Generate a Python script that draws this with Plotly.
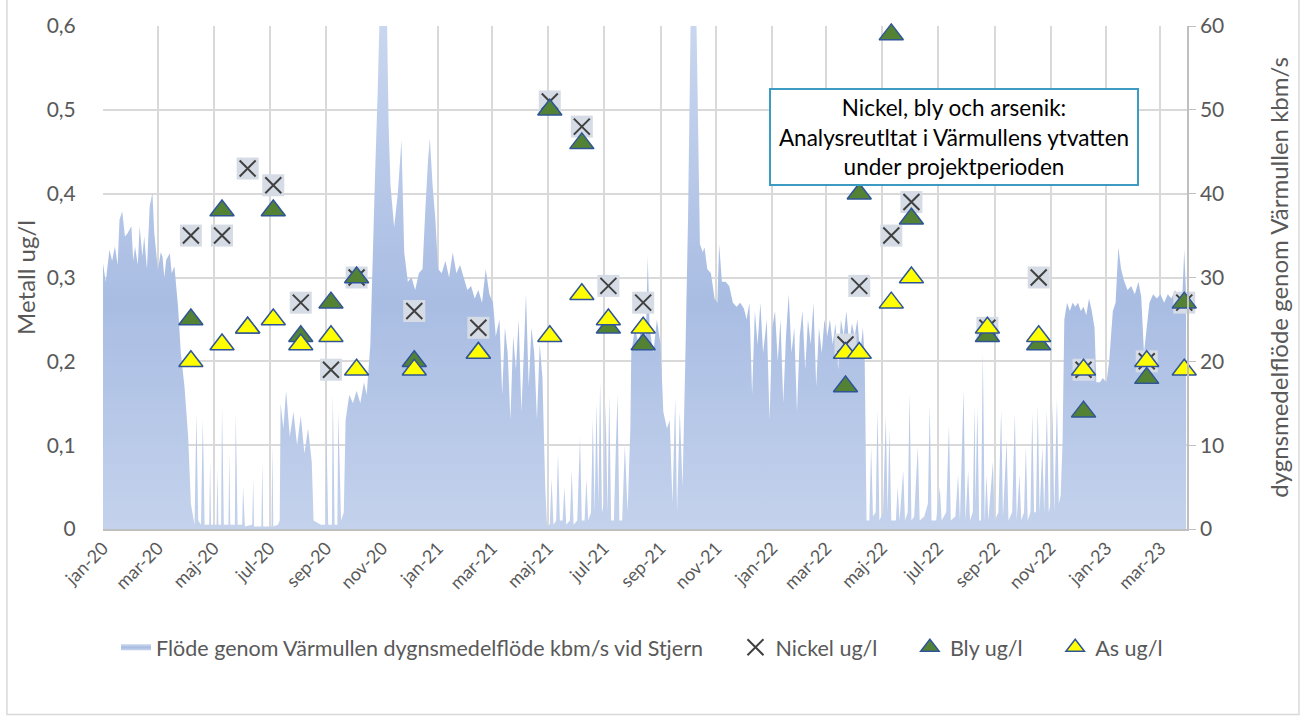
import plotly.graph_objects as go

# ---------------- data ----------------
sample_dates = ["2020-04-06", "2020-05-10", "2020-06-07", "2020-07-05", "2020-08-04", "2020-09-06",
                "2020-10-04", "2020-12-06", "2021-02-14", "2021-05-03", "2021-06-07", "2021-07-06",
                "2021-08-13", "2022-03-22", "2022-04-06", "2022-05-11", "2022-06-02", "2022-08-24",
                "2022-10-19", "2022-12-07", "2023-02-14", "2023-03-27"]
nickel = [0.35, 0.35, 0.43, 0.41, 0.27, 0.19, 0.30, 0.26, 0.24, 0.51, 0.48, 0.29, 0.27, 0.22, 0.29,
          0.35, 0.39, 0.24, 0.30, 0.19, 0.20, 0.27]
bly = [0.25, 0.38, 0.24, 0.38, 0.23, 0.27, 0.30, 0.20, 0.21, 0.50, 0.46, 0.24, 0.22, 0.17, 0.40,
       0.59, 0.37, 0.23, 0.22, 0.14, 0.18, 0.27]
arsenik = [0.20, 0.22, 0.24, 0.25, 0.22, 0.23, 0.19, 0.19, 0.21, 0.23, 0.28, 0.25, 0.24, 0.21, 0.21,
           0.27, 0.30, 0.24, 0.23, 0.19, 0.20, 0.19]

flow_points = [
    # 2020 winter
    ("2020-01-01", 31.7), ("2020-01-04", 29.5), ("2020-01-08", 33.3), ("2020-01-11", 32.0), ("2020-01-14", 33.7),
    ("2020-01-17", 31.5), ("2020-01-19", 36.9), ("2020-01-22", 37.9), ("2020-01-25", 34.9), ("2020-01-28", 35.3),
    ("2020-02-01", 36.1), ("2020-02-03", 32.0), ("2020-02-05", 33.7), ("2020-02-08", 31.5), ("2020-02-10", 36.1),
    ("2020-02-13", 32.5), ("2020-02-15", 34.9), ("2020-02-18", 31.0), ("2020-02-21", 38.5), ("2020-02-24", 40.1),
    ("2020-02-26", 35.3), ("2020-03-01", 30.9), ("2020-03-04", 33.0), ("2020-03-06", 32.5), ("2020-03-08", 30.0),
    ("2020-03-10", 32.1), ("2020-03-14", 32.9), ("2020-03-16", 30.5), ("2020-03-19", 31.3), ("2020-03-23", 26.5),
    ("2020-03-26", 21.0), ("2020-03-30", 17.0), ("2020-04-03", 11.0), ("2020-04-06", 3.0), ("2020-04-10", 0.5),
    # 2020 spring low
    ("2020-04-12", 13.8), ("2020-04-14", 1.0), ("2020-04-17", 0.5), ("2020-04-19", 13.0), ("2020-04-21", 0.5),
    ("2020-04-26", 0.5), ("2020-04-27", 8.0), ("2020-04-28", 0.5), ("2020-05-04", 0.5), ("2020-05-05", 7.0),
    ("2020-05-06", 0.5), ("2020-05-09", 0.5), ("2020-05-10", 14.5), ("2020-05-12", 0.5), ("2020-05-17", 0.5),
    ("2020-05-18", 9.0), ("2020-05-19", 0.5), ("2020-05-24", 0.5), ("2020-05-25", 13.8), ("2020-05-27", 0.5),
    ("2020-06-01", 0.5), ("2020-06-02", 5.0), ("2020-06-04", 0.3), ("2020-06-12", 0.5), ("2020-06-13", 6.0),
    ("2020-06-14", 0.3), ("2020-06-22", 0.3), ("2020-06-23", 8.0), ("2020-06-24", 0.3), ("2020-07-03", 0.3),
    ("2020-07-04", 10.0), ("2020-07-05", 0.3), ("2020-07-10", 0.5),
    # 2020 summer / autumn
    ("2020-07-12", 1.0), ("2020-07-13", 15.0), ("2020-07-16", 12.0), ("2020-07-19", 16.5), ("2020-07-23", 11.0),
    ("2020-07-27", 14.0), ("2020-07-31", 10.0), ("2020-08-04", 13.5), ("2020-08-08", 9.0), ("2020-08-12", 12.0),
    ("2020-08-16", 8.0), ("2020-08-18", 1.0), ("2020-08-26", 0.5), ("2020-08-31", 0.5), ("2020-09-01", 12.0),
    ("2020-09-03", 0.5), ("2020-09-07", 0.5), ("2020-09-08", 16.0), ("2020-09-10", 0.5), ("2020-09-13", 0.5),
    ("2020-09-14", 14.0), ("2020-09-17", 1.0), ("2020-09-20", 2.0), ("2020-09-22", 13.0), ("2020-09-26", 16.0),
    ("2020-09-30", 15.0), ("2020-10-04", 16.5), ("2020-10-08", 15.0), ("2020-10-12", 17.5), ("2020-10-15", 16.0),
    ("2020-10-19", 22.0), ("2020-10-24", 41.7), ("2020-10-27", 52.0), ("2020-10-30", 65.0), ("2020-11-03", 70.0),
    ("2020-11-06", 62.0),
    # 2020/21 winter
    ("2020-11-08", 48.0), ("2020-11-10", 41.0), ("2020-11-14", 36.0), ("2020-11-18", 40.0), ("2020-11-22", 46.4),
    ("2020-11-25", 33.0), ("2020-11-29", 29.5), ("2020-12-03", 30.0), ("2020-12-07", 28.5), ("2020-12-11", 30.5),
    ("2020-12-15", 31.0), ("2020-12-18", 38.0), ("2020-12-21", 44.0), ("2020-12-23", 46.6), ("2020-12-26", 41.0),
    ("2020-12-29", 37.0), ("2021-01-01", 31.0), ("2021-01-05", 30.5), ("2021-01-09", 32.0), ("2021-01-13", 30.0),
    ("2021-01-17", 33.0), ("2021-01-21", 30.5), ("2021-01-25", 31.5), ("2021-01-29", 30.0), ("2021-02-02", 28.5),
    ("2021-02-06", 29.0), ("2021-02-10", 27.5), ("2021-02-14", 28.5), ("2021-02-18", 27.0), ("2021-02-22", 31.0),
    ("2021-02-26", 28.0), ("2021-03-02", 27.0), ("2021-03-05", 23.0), ("2021-03-09", 25.0), ("2021-03-12", 16.0),
    ("2021-03-15", 24.0), ("2021-03-18", 21.0), ("2021-03-21", 13.0), ("2021-03-24", 23.0), ("2021-03-27", 19.0),
    ("2021-03-30", 25.0), ("2021-04-02", 14.0), ("2021-04-05", 22.0), ("2021-04-07", 28.0), ("2021-04-10", 17.0),
    ("2021-04-13", 24.0), ("2021-04-16", 21.0), ("2021-04-19", 13.0), ("2021-04-22", 22.0), ("2021-04-25", 18.0),
    ("2021-04-28", 5.0), ("2021-04-30", 0.5),
    # 2021 summer low
    ("2021-05-03", 0.5), ("2021-05-05", 6.0), ("2021-05-07", 0.5), ("2021-05-10", 1.0), ("2021-05-12", 9.0),
    ("2021-05-14", 1.0), ("2021-05-17", 1.0), ("2021-05-19", 5.0), ("2021-05-21", 0.5), ("2021-05-25", 1.0),
    ("2021-05-27", 7.0), ("2021-05-29", 0.5), ("2021-06-02", 1.0), ("2021-06-05", 11.0), ("2021-06-07", 1.0),
    ("2021-06-10", 1.0), ("2021-06-12", 6.0), ("2021-06-14", 1.0), ("2021-06-17", 2.0), ("2021-06-19", 13.0),
    ("2021-06-21", 2.0), ("2021-06-23", 15.0), ("2021-06-25", 3.0), ("2021-06-27", 17.5), ("2021-06-29", 2.0),
    ("2021-07-01", 3.0), ("2021-07-03", 15.0), ("2021-07-05", 2.0), ("2021-07-07", 16.0), ("2021-07-09", 1.0),
    ("2021-07-12", 1.0), ("2021-07-14", 9.0), ("2021-07-16", 16.0), ("2021-07-18", 1.0), ("2021-07-21", 1.0),
    ("2021-07-24", 10.0), ("2021-07-27", 2.0), ("2021-07-30", 12.0), ("2021-07-31", 21.0), ("2021-08-04", 24.0),
    ("2021-08-08", 22.0), ("2021-08-12", 25.0), ("2021-08-16", 23.0), ("2021-08-18", 32.5), ("2021-08-20", 24.0),
    ("2021-08-24", 21.0), ("2021-08-28", 25.0), ("2021-09-01", 22.0), ("2021-09-04", 14.0), ("2021-09-08", 12.0),
    ("2021-09-11", 13.0), ("2021-09-14", 3.0), ("2021-09-17", 15.7), ("2021-09-19", 2.0), ("2021-09-22", 14.0),
    ("2021-09-25", 5.0), ("2021-09-28", 20.0), ("2021-10-01", 37.0),
    # 2021/22 winter
    ("2021-10-04", 62.0), ("2021-10-07", 70.0), ("2021-10-10", 62.0), ("2021-10-14", 34.0), ("2021-10-17", 33.0),
    ("2021-10-19", 33.6), ("2021-10-22", 31.0), ("2021-10-26", 30.5), ("2021-10-30", 27.5), ("2021-11-02", 27.0),
    ("2021-11-04", 34.0), ("2021-11-07", 29.5), ("2021-11-11", 29.5), ("2021-11-15", 29.0), ("2021-11-19", 27.0),
    ("2021-11-23", 26.5), ("2021-11-27", 27.0), ("2021-12-01", 26.3), ("2021-12-04", 25.0), ("2021-12-07", 27.0),
    ("2021-12-10", 16.0), ("2021-12-13", 26.0), ("2021-12-16", 22.0), ("2021-12-19", 27.0), ("2021-12-22", 21.0),
    ("2021-12-26", 25.0), ("2021-12-29", 13.0), ("2022-01-01", 24.0), ("2022-01-04", 26.0), ("2022-01-07", 20.0),
    ("2022-01-10", 25.0), ("2022-01-13", 15.0), ("2022-01-16", 23.0), ("2022-01-19", 28.0), ("2022-01-22", 21.0),
    ("2022-01-25", 24.0), ("2022-01-28", 14.0), ("2022-01-31", 23.0), ("2022-02-03", 26.0), ("2022-02-06", 19.0),
    ("2022-02-09", 25.0), ("2022-02-12", 22.0), ("2022-02-15", 27.0), ("2022-02-18", 17.0), ("2022-02-21", 24.0),
    ("2022-02-24", 21.0), ("2022-02-27", 25.0), ("2022-03-02", 23.0), ("2022-03-05", 25.0), ("2022-03-08", 22.0),
    ("2022-03-11", 24.5), ("2022-03-14", 19.0), ("2022-03-17", 25.0), ("2022-03-20", 23.0), ("2022-03-23", 26.0),
    ("2022-03-26", 22.0), ("2022-03-29", 24.5), ("2022-04-01", 23.0), ("2022-04-04", 25.0), ("2022-04-07", 21.0),
    ("2022-04-10", 24.0), ("2022-04-12", 20.0), ("2022-04-14", 1.0),
    # 2022 summer low
    ("2022-04-17", 1.0), ("2022-04-19", 9.8), ("2022-04-21", 1.5), ("2022-04-24", 2.0), ("2022-04-26", 14.2),
    ("2022-04-28", 1.0), ("2022-05-02", 2.0), ("2022-05-05", 13.4), ("2022-05-07", 2.0), ("2022-05-09", 12.0),
    ("2022-05-11", 1.0), ("2022-05-16", 1.0), ("2022-05-18", 5.0), ("2022-05-20", 1.0), ("2022-05-24", 7.0),
    ("2022-05-26", 1.0), ("2022-05-29", 2.0), ("2022-05-31", 16.2), ("2022-06-02", 1.0), ("2022-06-05", 1.5),
    ("2022-06-09", 9.8), ("2022-06-11", 1.0), ("2022-06-16", 1.5), ("2022-06-20", 3.0), ("2022-06-22", 14.8),
    ("2022-06-24", 1.0), ("2022-06-29", 1.0), ("2022-07-03", 5.0), ("2022-07-05", 1.0), ("2022-07-10", 2.0),
    ("2022-07-13", 12.4), ("2022-07-15", 1.0), ("2022-07-20", 1.5), ("2022-07-23", 6.5), ("2022-07-25", 1.0),
    ("2022-07-29", 16.6), ("2022-07-31", 1.0), ("2022-08-03", 7.0), ("2022-08-05", 1.0), ("2022-08-08", 2.0),
    ("2022-08-10", 14.8), ("2022-08-11", 3.0), ("2022-08-13", 14.5), ("2022-08-15", 1.0), ("2022-08-17", 1.0),
    ("2022-08-19", 21.0), ("2022-08-21", 1.0), ("2022-08-23", 6.5), ("2022-08-25", 1.0), ("2022-08-30", 8.0),
    ("2022-09-01", 1.0), ("2022-09-05", 2.0), ("2022-09-08", 14.2), ("2022-09-10", 1.5), ("2022-09-14", 10.6),
    ("2022-09-16", 1.0), ("2022-09-20", 2.0), ("2022-09-23", 13.8), ("2022-09-25", 1.0), ("2022-09-28", 6.5),
    ("2022-09-30", 1.0), ("2022-10-03", 2.0), ("2022-10-05", 9.8), ("2022-10-07", 1.0), ("2022-10-10", 2.0),
    ("2022-10-12", 13.8), ("2022-10-14", 2.0), ("2022-10-16", 2.0), ("2022-10-18", 14.8), ("2022-10-20", 2.0),
    ("2022-10-23", 9.8), ("2022-10-25", 2.0), ("2022-10-28", 14.2), ("2022-10-30", 2.0), ("2022-11-01", 3.0),
    ("2022-11-03", 15.0), ("2022-11-05", 2.0), ("2022-11-08", 15.6), ("2022-11-10", 3.0), ("2022-11-12", 4.0),
    ("2022-11-14", 10.0),
    # 2022/23 winter
    ("2022-11-16", 25.0), ("2022-11-19", 27.0), ("2022-11-22", 26.0), ("2022-11-25", 27.0), ("2022-11-28", 26.5),
    ("2022-12-01", 27.0), ("2022-12-04", 26.0), ("2022-12-07", 26.5), ("2022-12-10", 25.5), ("2022-12-13", 27.5),
    ("2022-12-16", 26.0), ("2022-12-19", 24.0), ("2022-12-21", 17.5), ("2022-12-25", 17.5), ("2022-12-28", 18.0),
    ("2023-01-01", 17.5), ("2023-01-04", 20.0), ("2023-01-08", 26.0), ("2023-01-11", 27.0), ("2023-01-14", 33.6),
    ("2023-01-17", 31.0), ("2023-01-20", 29.7), ("2023-01-24", 28.5), ("2023-01-28", 29.0), ("2023-02-01", 28.0),
    ("2023-02-05", 29.5), ("2023-02-08", 27.7), ("2023-02-11", 21.0), ("2023-02-14", 24.0), ("2023-02-17", 27.0),
    ("2023-02-21", 28.0), ("2023-02-25", 27.5), ("2023-03-01", 28.0), ("2023-03-05", 27.0), ("2023-03-09", 28.0),
    ("2023-03-13", 27.5), ("2023-03-17", 28.5), ("2023-03-21", 27.5), ("2023-03-25", 28.0), ("2023-03-27", 33.3),
    ("2023-03-29", 28.0),
]
flow_dates = [d for d, _ in flow_points]
flow_values = [v for _, v in flow_points]

tick_dates = ["2020-01-01", "2020-03-01", "2020-05-01", "2020-07-01", "2020-09-01", "2020-11-01",
              "2021-01-01", "2021-03-01", "2021-05-01", "2021-07-01", "2021-09-01", "2021-11-01",
              "2022-01-01", "2022-03-01", "2022-05-01", "2022-07-01", "2022-09-01", "2022-11-01",
              "2023-01-01", "2023-03-01"]
tick_labels = ["jan-20", "mar-20", "maj-20", "jul-20", "sep-20", "nov-20", "jan-21", "mar-21", "maj-21",
               "jul-21", "sep-21", "nov-21", "jan-22", "mar-22", "maj-22", "jul-22", "sep-22", "nov-22",
               "jan-23", "mar-23"]

# ---------------- figure ----------------
FONT = "Lato"
GRAY = "#595959"
PAD = "\u00a0" * 5  # extra spacing between legend entries

fig = go.Figure()

fig.add_trace(go.Scatter(
    x=flow_dates, y=flow_values, mode="none", fill="tozeroy",
    fillgradient=dict(type="vertical", start=0, stop=60,
                      colorscale=[[0, "#C4D2EC"], [0.45, "#A9BDE3"], [1, "#C9D6EF"]]),
    name="Flöde genom Värmullen dygnsmedelflöde kbm/s vid Stjern" + PAD,
    yaxis="y", hoverinfo="skip"))

fig.add_trace(go.Scatter(
    x=sample_dates, y=nickel, mode="markers", yaxis="y2", showlegend=False, cliponaxis=False,
    marker=dict(symbol="square", size=22, color="#D6DCE5", line=dict(width=0))))
fig.add_trace(go.Scatter(
    x=sample_dates, y=nickel, mode="markers", yaxis="y2", name="Nickel ug/l" + PAD, cliponaxis=False,
    marker=dict(symbol="x-thin", size=16, color="#404040", line=dict(color="#404040", width=2))))
fig.add_trace(go.Scatter(
    x=sample_dates, y=bly, mode="markers", yaxis="y2", name="Bly ug/l" + PAD, cliponaxis=False,
    marker=dict(symbol="triangle-up", size=21, color="#548235", line=dict(color="#2F5597", width=1.5))))
fig.add_trace(go.Scatter(
    x=sample_dates, y=arsenik, mode="markers", yaxis="y2", name="As ug/l", cliponaxis=False,
    marker=dict(symbol="triangle-up", size=21, color="#FFFF00", line=dict(color="#2F5597", width=1.5))))

fig.update_layout(
    width=1306, height=722,
    margin=dict(l=103, r=119, t=26, b=193),
    paper_bgcolor="white", plot_bgcolor="white",
    separators=", ",
    font=dict(family=FONT, color=GRAY, size=18),
    showlegend=True,
    legend=dict(orientation="h", x=0.012, xanchor="left", y=-0.235, yanchor="middle",
                font=dict(family=FONT, size=21.5, color=GRAY), traceorder="normal",
                bgcolor="rgba(0,0,0,0)"),
    xaxis=dict(type="date", range=["2020-01-01", "2023-03-30"], tickvals=tick_dates, ticktext=tick_labels,
               tickangle=-45, tickfont=dict(size=18, color=GRAY), showgrid=True, gridcolor="#D9D9D9",
               gridwidth=1.5, showline=True, linecolor="#BFBFBF", linewidth=1.5, ticks="", zeroline=False),
    yaxis=dict(side="right", range=[0, 60], dtick=10, showgrid=True, gridcolor="#D9D9D9", gridwidth=1.5,
               showline=True, linecolor="#BFBFBF", linewidth=1.5, ticks="outside", ticklen=7,
               tickcolor="#BFBFBF", tickfont=dict(size=21, color=GRAY), zeroline=False,
               title=dict(text="dygnsmedelflöde genom Värmullen kbm/s", font=dict(size=24, color=GRAY),
                          standoff=48)),
    yaxis2=dict(overlaying="y", side="left", range=[0, 0.6], dtick=0.1, showgrid=False, zeroline=False,
                showline=False, ticks="outside", ticklen=22, tickcolor="rgba(0,0,0,0)",
                tickfont=dict(size=21, color=GRAY), tickformat=".1~f",
                title=dict(text="Metall ug/l", font=dict(size=24, color=GRAY), standoff=4)),
)

fig.add_annotation(
    xref="paper", yref="paper", x=0.7846, y=0.7792, xanchor="center", yanchor="middle",
    text="Nickel, bly och arsenik:<br>Analysreutltat i Värmullens ytvatten<br>under projektperioden",
    showarrow=False, align="center", font=dict(family=FONT, size=22.5, color="#000000"),
    bgcolor="white", bordercolor="#3C9BC3", borderwidth=2, borderpad=2, width=362, height=90)

# outer chart border
fig.add_shape(type="rect", xref="paper", yref="paper", x0=-0.0886, x1=1.1033, y0=-0.3687, y1=1.0926,
              line=dict(color="#D9D9D9", width=1.5), fillcolor="rgba(0,0,0,0)", layer="below")

fig.write_html("out.html", config={"displayModeBar": False},
               post_script="document.body.style.margin='0';document.body.style.overflow='hidden';")
